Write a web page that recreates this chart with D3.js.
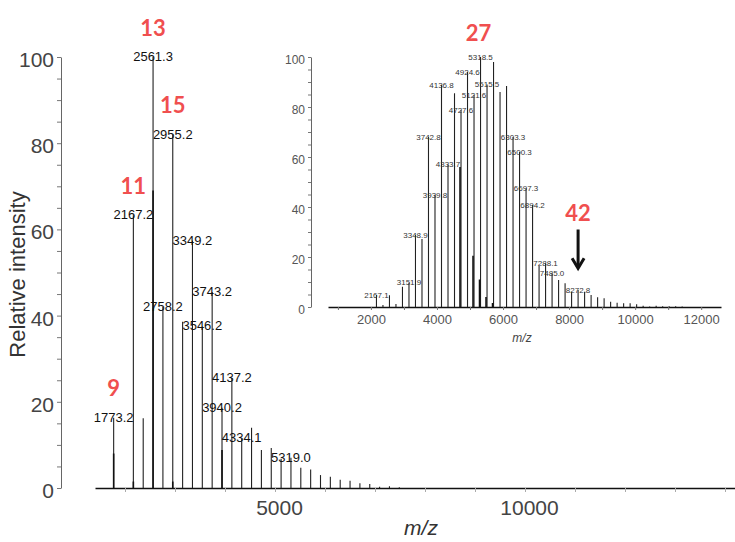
<!DOCTYPE html>
<html>
<head>
<meta charset="utf-8">
<script src="https://cdn.jsdelivr.net/npm/d3@7"></script>
<style>
  body { margin: 0; background: #fff; }
  svg { display: block; font-family: "Liberation Sans", Arial, sans-serif; }
</style>
</head>
<body>
<div id="content-area"></div>
<script>
// ---- main spectrum ----
const mainMz = [1773.2, 1970.2, 2167.2, 2364.2, 2561.3, 2758.2, 2955.2, 3152.2, 3349.2, 3546.2,
                3743.2, 3940.2, 4137.2, 4334.1, 4531.1, 4728.1, 4925.1, 5122.0, 5319.0, 5516.0,
                5713.0, 5910.0, 6107.0, 6304.0, 6501.0, 6698.0, 6895.0, 7092.0, 7289.0, 7486.0];
const mainIntensity = [16.3, 0, 63.3, 16.2, 100, 42, 82, 38.6, 57.4, 37.5,
                       45.5, 18.6, 25.5, 11.5, 14.0, 8.8, 9.3, 6.8, 7.0, 4.7,
                       4.3, 3.0, 2.6, 1.9, 1.7, 1.1, 0.9, 0.3, 0.4, 0.2];
// darker shoulder peaks sitting on some of the main peaks
const mainShoulderMz = [1773.2, 2167.2, 2561.3, 2955.2, 3940.2];
const mainShoulder = [8, 1.5, 69, 1.5, 8.8];
// labelled peaks
const mainLabelMz = [1773.2, 2167.2, 2561.3, 2758.2, 2955.2, 3349.2, 3546.2, 3743.2, 3940.2, 4137.2, 4334.1, 5319.0];
// charge states in red
const mainChargeText = ["9", "11", "13", "15"];
const mainChargeMz = [1773.2, 2167.2, 2561.3, 2955.2];
// axis ticks
const mainXTicks = [2000, 3000, 4000, 5000, 6000, 7000, 8000, 9000, 10000, 11000, 12000, 13000, 14000];
const mainXLabels = [5000, 10000];
const mainYTicks = [0, 5, 10, 15, 20, 25, 30, 35, 40, 45, 50, 55, 60, 65, 70, 75, 80, 85, 90, 95, 100];
const mainYLabels = [0, 20, 40, 60, 80, 100];

// ---- inset spectrum ----
const insetMz = [2167.1, 2364.1, 2561.1, 2758.0, 2955.0, 3151.9, 3348.9, 3545.9, 3742.8, 3939.8,
                 4136.8, 4333.7, 4530.7, 4727.6, 4924.6, 5121.6, 5318.5, 5515.5, 5712.4, 5909.4,
                 6106.4, 6303.3, 6500.3, 6697.3, 6894.2, 7091.2, 7288.1, 7485.0, 7682.0, 7879.0,
                 8075.9, 8272.8, 8469.8, 8666.8, 8863.7, 9060.7, 9257.7, 9454.6, 9651.6, 9848.5,
                 10045.5, 10242.5, 10439.4, 10636.4, 10833.4, 11030.3, 11227.3, 11424.2];
const insetIntensity = [4.8, 0.8, 4.7, 1.2, 8.1, 9.7, 28.8, 27.2, 68, 44.8,
                        88.8, 57, 85.5, 78.8, 94, 84.8, 100, 89, 98, 86,
                        88.4, 68, 62, 47.5, 40.8, 16.4, 17.5, 13.5, 10.8, 9.5,
                        6.1, 6.8, 6.1, 4.8, 3.9, 3.5, 2.1, 1.7, 1.5, 1.5,
                        1.1, 0.5, 0.2, 0.5, 0.3, 0.3, 0.3, 0.2];
const insetShoulderMz = [4697.6, 5091.6, 5288.5, 5485.5, 5682.4];
const insetShoulder = [56, 20.5, 11, 4, 1.6];
const insetLabelMz = [2167.1, 3151.9, 3348.9, 3742.8, 3939.8, 4136.8, 4333.7, 4727.6, 4924.6, 5121.6,
                      5318.5, 5515.5, 6303.3, 6500.3, 6697.3, 6894.2, 7288.1, 7485.0, 8272.8];
const insetChargeText = ["27"];
const insetChargeMz = [5318.5];
// arrow pointing at charge 42
const arrowMz = 8272.8;
const arrowText = "42";
const arrowSpan = [31, 15.5];
const insetXTicks = [1000, 2000, 3000, 4000, 5000, 6000, 7000, 8000, 9000, 10000, 11000, 12000];
const insetXLabels = [2000, 4000, 6000, 8000, 10000, 12000];
const insetYTicks = mainYTicks;
const insetYLabels = mainYLabels;

function init() {
    const w = 735;
    const h = 542;
    const red = "#f04f4f";

    const svg = d3.select("#content-area")
                  .append("svg")
                  .attr("width", w)
                  .attr("height", h);

    // Scales
    const x = d3.scaleLinear().domain([1400, 14200]).range([95, 735]);
    const y = d3.scaleLinear().domain([0, 100]).range([488, 57]);
    const xi = d3.scaleLinear().domain([700, 12600]).range([328, 721]);
    const yi = d3.scaleLinear().domain([0, 100]).range([307, 57]);

    const fmt = d3.format(".1f");

    // ---------- main axes ----------
    const gx = svg.append("g")
        .attr("transform", `translate(0,${y(0)})`)
        .call(d3.axisBottom(x).tickValues(mainXTicks).tickSize(4).tickSizeOuter(0)
              .tickFormat(d => mainXLabels.includes(d) ? d : ""));
    gx.attr("font-family", null);
    gx.select(".domain").attr("stroke", "#111").attr("stroke-width", 1.6);
    gx.selectAll(".tick line").attr("stroke", "#aaa");
    gx.selectAll(".tick text").attr("font-size", 21).attr("fill", "#444").attr("y", 12).attr("dx", 4);

    const gy = svg.append("g")
        .attr("transform", "translate(61,0)")
        .call(d3.axisLeft(y).tickValues(mainYTicks).tickSize(4).tickSizeOuter(0)
              .tickFormat(d => mainYLabels.includes(d) ? d : ""));
    gy.attr("font-family", null);
    gy.select(".domain").attr("stroke", "#666");
    gy.selectAll(".tick line").attr("stroke", "#777");
    gy.selectAll(".tick text").attr("font-size", 21).attr("fill", "#444").attr("dy", "0.45em");

    // axis titles
    svg.append("text")
        .attr("transform", `translate(25,${(y(0) + y(100)) / 2 + 2}) rotate(-90)`)
        .attr("text-anchor", "middle")
        .attr("font-size", 22)
        .attr("fill", "#333")
        .text("Relative intensity");

    svg.append("text")
        .attr("x", 421)
        .attr("y", 535)
        .attr("text-anchor", "middle")
        .attr("font-size", 21)
        .attr("font-style", "italic")
        .attr("fill", "#333")
        .text("m/z");

    // ---------- main peaks ----------
    svg.append("g").selectAll("line")
        .data(d3.zip(mainMz, mainIntensity))
        .enter()
        .append("line")
        .attr("x1", d => x(d[0]))
        .attr("x2", d => x(d[0]))
        .attr("y1", y(0))
        .attr("y2", d => y(d[1]))
        .attr("stroke", "#222")
        .attr("stroke-width", 1.1);

    svg.append("g").selectAll("line")
        .data(d3.zip(mainShoulderMz, mainShoulder))
        .enter()
        .append("line")
        .attr("x1", d => x(d[0]))
        .attr("x2", d => x(d[0]))
        .attr("y1", y(0))
        .attr("y2", d => y(d[1]))
        .attr("stroke", "#111")
        .attr("stroke-width", 1.6);

    const mainTop = mz => y(mainIntensity[mainMz.indexOf(mz)]);

    svg.append("g").selectAll("text")
        .data(mainLabelMz)
        .enter()
        .append("text")
        .attr("x", d => x(d))
        .attr("y", d => mainTop(d) + 4)
        .attr("text-anchor", "middle")
        .attr("font-size", 13)
        .attr("fill", "#111")
        .text(d => fmt(d));

    svg.append("g").selectAll("text")
        .data(d3.zip(mainChargeText, mainChargeMz))
        .enter()
        .append("text")
        .attr("x", d => x(d[1]))
        .attr("y", d => mainTop(d[1]) - 30)
        .attr("dominant-baseline", "central")
        .attr("text-anchor", "middle")
        .attr("font-family", "Lato, 'Open Sans', sans-serif")
        .attr("font-weight", "bold")
        .attr("font-size", 22)
        .attr("fill", red)
        .text(d => d[0]);

    // ---------- inset axes ----------
    const gxi = svg.append("g")
        .attr("transform", `translate(0,${yi(0)})`)
        .call(d3.axisBottom(xi).tickValues(insetXTicks).tickSize(3).tickSizeOuter(0)
              .tickFormat(d => insetXLabels.includes(d) ? d : ""));
    gxi.attr("font-family", null);
    gxi.select(".domain").attr("stroke", "#111").attr("stroke-width", 1.3);
    gxi.selectAll(".tick line").attr("stroke", "#777");
    gxi.selectAll(".tick text").attr("font-size", 13).attr("fill", "#555").attr("y", 8);

    const gyi = svg.append("g")
        .attr("transform", "translate(311,0)")
        .call(d3.axisLeft(yi).tickValues(insetYTicks).tickSize(3).tickSizeOuter(0)
              .tickFormat(d => insetYLabels.includes(d) ? d : ""));
    gyi.attr("font-family", null);
    gyi.select(".domain").attr("stroke", "#666");
    gyi.selectAll(".tick line").attr("stroke", "#777");
    gyi.selectAll(".tick text").attr("font-size", 12).attr("fill", "#555").attr("dy", "0.5em");

    svg.append("text")
        .attr("x", 522)
        .attr("y", 342)
        .attr("text-anchor", "middle")
        .attr("font-size", 12)
        .attr("font-style", "italic")
        .attr("fill", "#444")
        .text("m/z");

    // ---------- inset peaks ----------
    svg.append("g").selectAll("line")
        .data(d3.zip(insetMz, insetIntensity))
        .enter()
        .append("line")
        .attr("x1", d => xi(d[0]))
        .attr("x2", d => xi(d[0]))
        .attr("y1", yi(0))
        .attr("y2", d => yi(d[1]))
        .attr("stroke", "#222")
        .attr("stroke-width", 1.1);

    svg.append("g").selectAll("line")
        .data(d3.zip(insetShoulderMz, insetShoulder))
        .enter()
        .append("line")
        .attr("x1", d => xi(d[0]))
        .attr("x2", d => xi(d[0]))
        .attr("y1", yi(0))
        .attr("y2", d => yi(d[1]))
        .attr("stroke", "#111")
        .attr("stroke-width", 1.6);

    const insetTop = mz => yi(insetIntensity[insetMz.indexOf(mz)]);

    svg.append("g").selectAll("text")
        .data(insetLabelMz)
        .enter()
        .append("text")
        .attr("x", d => xi(d))
        .attr("y", d => insetTop(d) + 2.5)
        .attr("text-anchor", "middle")
        .attr("font-size", 8)
        .attr("fill", "#333")
        .text(d => fmt(d));

    svg.append("g").selectAll("text")
        .data(d3.zip(insetChargeText, insetChargeMz))
        .enter()
        .append("text")
        .attr("x", d => xi(d[1]) - 2)
        .attr("y", d => insetTop(d[1]) - 25)
        .attr("dominant-baseline", "central")
        .attr("text-anchor", "middle")
        .attr("font-family", "Lato, 'Open Sans', sans-serif")
        .attr("font-weight", "bold")
        .attr("font-size", 22)
        .attr("fill", red)
        .text(d => d[0]);

    // arrow to charge 42
    const ax = xi(arrowMz);
    const ay1 = yi(arrowSpan[0]);
    const ay2 = yi(arrowSpan[1]);
    svg.append("line")
        .attr("x1", ax).attr("x2", ax)
        .attr("y1", ay1).attr("y2", ay2 - 1)
        .attr("stroke", "#111")
        .attr("stroke-width", 3);
    svg.append("path")
        .attr("d", `M${ax - 6},${ay2 - 10}L${ax},${ay2}L${ax + 6},${ay2 - 10}`)
        .attr("fill", "none")
        .attr("stroke", "#111")
        .attr("stroke-width", 3);
    svg.append("text")
        .attr("x", ax)
        .attr("y", ay1 - 17)
        .attr("dominant-baseline", "central")
        .attr("text-anchor", "middle")
        .attr("font-family", "Lato, 'Open Sans', sans-serif")
        .attr("font-weight", "bold")
        .attr("font-size", 22)
        .attr("fill", red)
        .text(arrowText);
}

window.onload = init;
</script>
</body>
</html>
